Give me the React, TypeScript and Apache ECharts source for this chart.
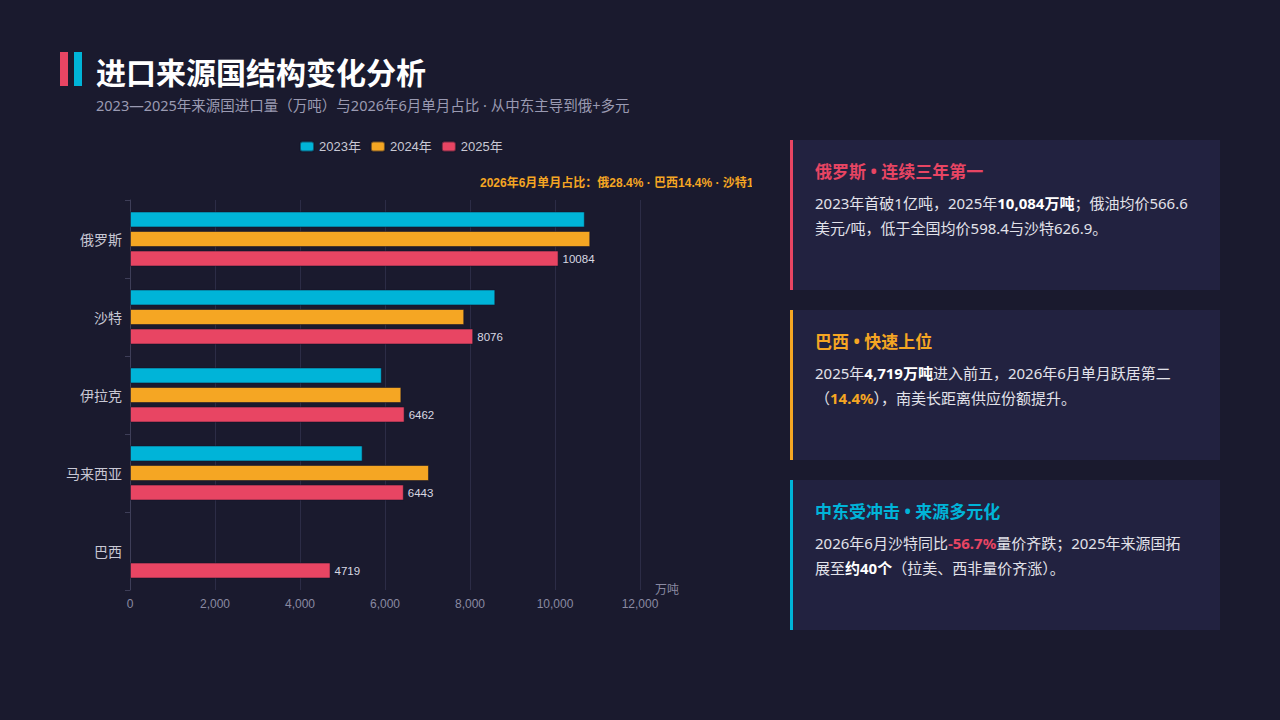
import * as React from "react";
import * as echarts from "echarts";

// 来源国（上→下）与三年进口量（万吨）
const countries = ["俄罗斯", "沙特", "伊拉克", "马来西亚", "巴西"];
const years = ["2023年", "2024年", "2025年"];
const vol2023 = [10702, 8596, 5925, 5474, null];
const vol2024 = [10830, 7865, 6385, 7035, null];
const vol2025 = [10084, 8076, 6462, 6443, 4719];
const xTicks = [0, 2000, 4000, 6000, 8000, 10000, 12000];
const shareNote = "2026年6月单月占比：俄28.4% · 巴西14.4% · 沙特1";

const C_CYAN = "#00b4d8";
const C_ORANGE = "#f5a623";
const C_RED = "#e84563";
const BG = "#1a1a2e";
const CARD = "#222240";
const FONT = "'Liberation Sans', 'Noto Sans CJK SC', sans-serif";
const CJK = "'Noto Sans', 'Noto Sans CJK SC', sans-serif";

function ImportChart() {
  const ref = React.useRef<HTMLDivElement | null>(null);

  React.useEffect(() => {
    if (!ref.current) return;
    const chart = echarts.init(ref.current, undefined, { renderer: "svg" });
    const colors = [C_CYAN, C_ORANGE, C_RED];
    const data = [vol2023, vol2024, vol2025];
    chart.setOption({
      animation: false,
      backgroundColor: "transparent",
      textStyle: { fontFamily: FONT },
      legend: {
        top: 5,
        left: 254,
        itemWidth: 14,
        itemHeight: 10,
        itemGap: 9,
        icon: "roundRect",
        textStyle: { color: "#c8c8d4", fontSize: 13, fontFamily: FONT },
        data: years,
      },
      graphic: [
        {
          type: "text",
          left: 440,
          top: 47,
          style: {
            text: shareNote,
            fill: C_ORANGE,
            font: `bold 12px ${FONT}`,
          },
        },
      ],
      grid: { left: 90, right: 112, top: 70, bottom: 30 },
      xAxis: {
        type: "value",
        min: 0,
        max: xTicks[xTicks.length - 1],
        interval: 2000,
        name: "万吨",
        nameLocation: "end",
        nameGap: 15,
        nameTextStyle: { color: "#8a8aa2", fontSize: 12, verticalAlign: "middle" },
        axisLine: { show: false },
        axisTick: { show: false },
        axisLabel: {
          color: "#8a8aa2",
          fontSize: 12,
          formatter: (v: number) => v.toLocaleString("en-US"),
        },
        splitLine: { lineStyle: { color: "#2c2c46", width: 1 } },
      },
      yAxis: {
        type: "category",
        inverse: true,
        data: countries,
        axisLine: { show: true, lineStyle: { color: "#3e3e58" } },
        axisTick: { show: true, length: 5, lineStyle: { color: "#3e3e58" } },
        axisLabel: { color: "#c8c8d4", fontSize: 14, margin: 8, fontFamily: "'Noto Sans CJK SC', sans-serif" },
      },
      series: years.map((y, i) => ({
        name: y,
        type: "bar",
        data: data[i],
        barWidth: 16,
        barGap: "22%",
        itemStyle: {
          color: colors[i],
          borderColor: "rgba(20,20,40,0.55)",
          borderWidth: 1,
        },
        label:
          i === 2
            ? { show: true, position: "right", color: "#d8d8e2", fontSize: 11.5, distance: 4 }
            : { show: false },
      })),
    });
    return () => chart.dispose();
  }, []);

  return (
    <div
      ref={ref}
      style={{ position: "absolute", left: 40, top: 130, width: 712, height: 490 }}
    />
  );
}

type Run = { t: string; b?: boolean; c?: string };

// 每行手动断开，与原图换行一致
const cards: { title: string; color: string; top: number; lines: Run[][] }[] = [
  {
    title: "俄罗斯 • 连续三年第一",
    color: C_RED,
    top: 140,
    lines: [
      [
        { t: "2023年首破1亿吨，2025年" },
        { t: "10,084万吨", b: true },
        { t: "；俄油均价566.6" },
      ],
      [{ t: "美元/吨，低于全国均价598.4与沙特626.9。" }],
    ],
  },
  {
    title: "巴西 • 快速上位",
    color: C_ORANGE,
    top: 310,
    lines: [
      [
        { t: "2025年" },
        { t: "4,719万吨", b: true },
        { t: "进入前五，2026年6月单月跃居第二" },
      ],
      [
        { t: "（" },
        { t: "14.4%", b: true, c: C_ORANGE },
        { t: "），南美长距离供应份额提升。" },
      ],
    ],
  },
  {
    title: "中东受冲击 • 来源多元化",
    color: C_CYAN,
    top: 480,
    lines: [
      [
        { t: "2026年6月沙特同比" },
        { t: "-56.7%", b: true, c: C_RED },
        { t: "量价齐跌；2025年来源国拓" },
      ],
      [
        { t: "展至" },
        { t: "约40个", b: true },
        { t: "（拉美、西非量价齐涨）。" },
      ],
    ],
  },
];

export default function App() {
  React.useEffect(() => {
    document.body.style.margin = "0";
    document.body.style.background = BG;
  }, []);

  return (
    <div
      style={{
        position: "relative",
        width: 1280,
        height: 720,
        background: BG,
        overflow: "hidden",
        fontFamily: CJK,
      }}
    >
      <div style={{ position: "absolute", left: 60, top: 52, width: 8, height: 34, background: C_RED }} />
      <div style={{ position: "absolute", left: 74, top: 52, width: 8, height: 34, background: C_CYAN }} />
      <div
        style={{
          position: "absolute",
          left: 96,
          top: 50,
          fontSize: 30,
          fontWeight: 700,
          color: "#ffffff",
          lineHeight: "42px",
          fontFamily: "'Noto Sans CJK SC', sans-serif",
        }}
      >
        进口来源国结构变化分析
      </div>
      <div
        style={{
          position: "absolute",
          left: 96,
          top: 94,
          fontSize: 14.5,
          color: "#9a9ab2",
          lineHeight: "22px",
        }}
      >
        2023—2025年来源国进口量（万吨）与2026年6月单月占比 · 从中东主导到俄+多元
      </div>

      <ImportChart />

      {cards.map((cd) => (
        <div
          key={cd.title}
          style={{
            position: "absolute",
            left: 790,
            top: cd.top,
            width: 427,
            height: 150,
            background: CARD,
            borderLeft: `3px solid ${cd.color}`,
          }}
        >
          <div
            style={{
              position: "absolute",
              left: 22,
              top: 20,
              fontSize: 17,
              fontWeight: 700,
              color: cd.color,
              lineHeight: "24px",
            }}
          >
            {cd.title}
          </div>
          <div
            style={{
              position: "absolute",
              left: 22,
              top: 51,
              fontSize: 15,
              color: "#e2e2ea",
              lineHeight: "25px",
              whiteSpace: "nowrap",
            }}
          >
            {cd.lines.map((line, li) => (
              <div key={li}>
                {line.map((r, i) => (
                  <span
                    key={i}
                    style={{
                      fontWeight: r.b ? 700 : 400,
                      color: r.c ?? (r.b ? "#ffffff" : undefined),
                    }}
                  >
                    {r.t}
                  </span>
                ))}
              </div>
            ))}
          </div>
        </div>
      ))}
    </div>
  );
}
